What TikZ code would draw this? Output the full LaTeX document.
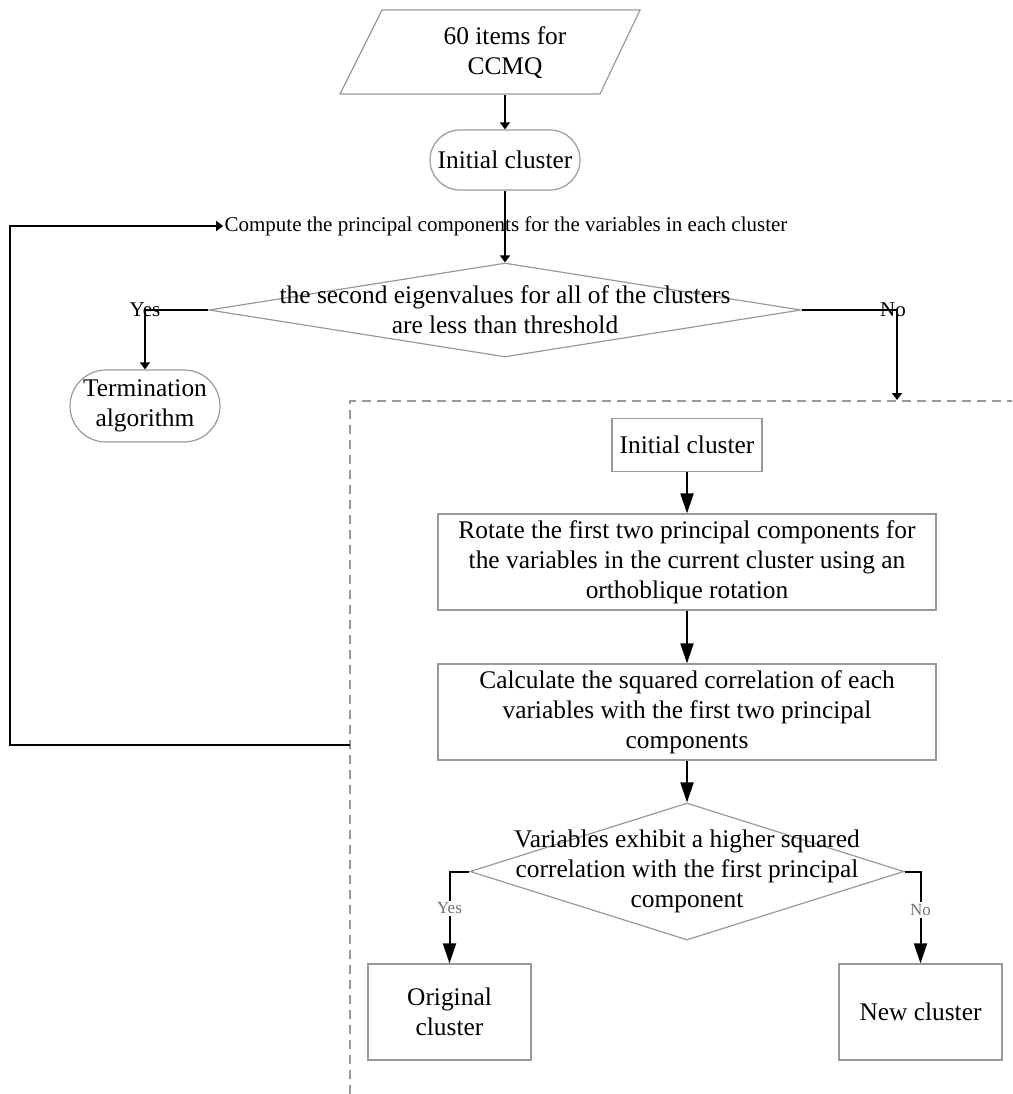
\documentclass[tikz,border=0pt]{standalone}
\usepackage{fontspec}
\setmainfont{Liberation Serif}
\usetikzlibrary{shapes.geometric,arrows.meta}
\tikzset{>=latex}
\definecolor{framegray}{gray}{0.6}
\definecolor{labelgray}{gray}{0.45}
\newcommand{\fcbig}{\fontsize{25.4}{30}\selectfont}
\newcommand{\fcsmall}{\fontsize{21}{25}\selectfont}
\newcommand{\fclabel}{\fontsize{17}{20}\selectfont}

\begin{document}
\begin{tikzpicture}[x=1pt, y=-1pt, line width=1,
	box/.style={draw=framegray, line width=1.2pt, align=center, font=\fcbig, inner sep=4pt},
	pill/.style={box, rounded corners=#1},
	cond/.style={diamond, draw=framegray, line width=1.2pt, inner sep=0pt},
	flow/.style={line width=2pt, -{Triangle[width=10pt,length=7pt]}},
	bigflow/.style={line width=2pt, -{Triangle[width=13pt,length=20pt]}}]
		\useasboundingbox (0,0) rectangle (1012,1094);

		% Input
		\draw[framegray, line width=1.2pt] (382,10) -- (640,10) -- (600,94) -- (340,94) -- cycle;
		\node[align=center, font=\fcbig, minimum height=84pt, inner sep=0pt] (items) at (505,53) {60 items for\\CCMQ};

		% Outer loop
		\node[pill=30pt, minimum width=150pt, minimum height=60pt] (init1) at (505,160) {Initial cluster};
		\node[font=\fcsmall, inner sep=1pt] (comp) at (506,226) {Compute the principal components for the variables in each cluster};
		\node[cond, minimum width=592pt, minimum height=94pt] (cond1) at (505,310) {};
		\node[align=center, font=\fcbig] (cond1txt) at (cond1) {the second eigenvalues for all of the clusters\\are less than threshold};
		\node[pill=36pt, minimum width=150pt, minimum height=72pt] (term) at (145,406) {Termination\\algorithm};

		% Dashed frame
		\draw[framegray, line width=1.2pt, dash pattern=on 9pt off 6pt] (350,1094) |- (1012,401);
		\coordinate (nobr) at (897,400);
		\coordinate (back) at (350,745);
		\coordinate (loopcorner) at (10,745);

		% Inner steps
		\node[box, minimum width=150pt, minimum height=53pt] (init2) at (687,445) {Initial cluster};
		\node[box, minimum width=498pt, minimum height=96pt] (rot) at (687,562) {Rotate the first two principal components for\\the variables in the current cluster using an\\orthoblique rotation};
		\node[box, minimum width=498pt, minimum height=96pt] (calc) at (687,712) {Calculate the squared correlation of each\\variables with the first two principal\\components};
		\node[cond, minimum width=434pt, minimum height=137pt] (cond2) at (687,871.5) {};
		\node[align=center, font=\fcbig] (cond2txt) at (cond2) {Variables exhibit a higher squared\\correlation with the first principal\\component};
		\node[box, minimum width=163pt, minimum height=96pt] (orig) at (449.5,1012) {Original\\cluster};
		\node[box, minimum width=163pt, minimum height=96pt] (newc) at (920.5,1012) {New cluster};

		% Arrows
		\draw[flow] (items) -- (init1);
		\draw[flow] (init1) -- (cond1.north);
		\draw[flow] (cond1.west) -| node[pos=0.5, font=\fcsmall] {Yes} (term.north);
		\draw[flow] (cond1.east) -| node[pos=0.5, xshift=-4pt, font=\fcsmall] {No} (nobr);
		\draw[flow] (back) -- (loopcorner) |- (comp.west);
		\draw[bigflow] (init2) -- (rot);
		\draw[bigflow] (rot) -- (calc);
		\draw[bigflow] (calc) -- (cond2.north);
		\draw[bigflow] (cond2.west) -| node[pos=0.7, fill=white, inner sep=2pt, text=labelgray, font=\fclabel] {Yes} (orig.north);
		\draw[bigflow] (cond2.east) -| node[pos=0.71, fill=white, inner sep=2pt, text=labelgray, font=\fclabel] {No} (newc.north);
	\end{tikzpicture}
\end{document}
